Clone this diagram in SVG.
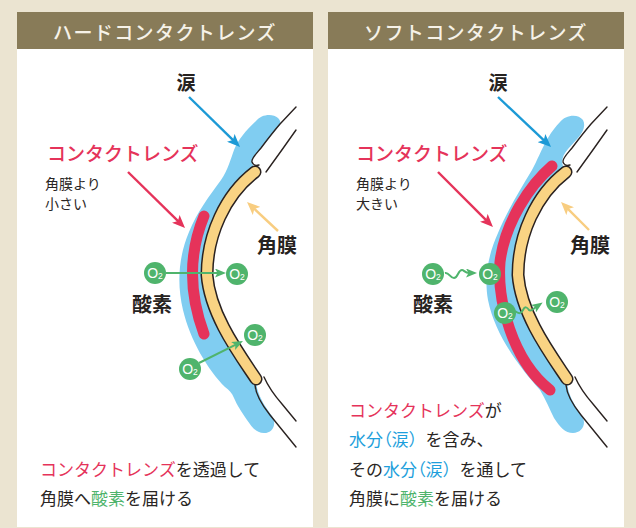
<svg xmlns="http://www.w3.org/2000/svg" width="636" height="528" viewBox="0 0 636 528">
  <defs>
    <style>
      .hdr{font-family:"Noto Sans CJK JP","Noto Sans",sans-serif;font-size:19px;font-weight:500;fill:#F6F2E8;letter-spacing:1.4px;text-anchor:middle}
      .lbl{font-family:"Noto Sans CJK JP",sans-serif;font-weight:700;fill:#262220}
      .txt{font-family:"Noto Sans CJK JP",sans-serif;fill:#2A2624}
      .red{fill:#E5335A}
      .blu{fill:#1E9FDC}
      .palt{font-feature-settings:"palt"}
      .grn{fill:#4FB46C}
      .tear{fill:#80CDF1}
      .lens{fill:none;stroke:#E5335A;stroke-width:11;stroke-linecap:round}
      .co{fill:none;stroke:#2A2220;stroke-width:13;stroke-linecap:round}
      .ci{fill:none;stroke:#F9D383;stroke-width:10;stroke-linecap:round}
      .lid{fill:none;stroke:#2A2220;stroke-width:1.4;stroke-linecap:round;stroke-linejoin:round}
      .o2c{fill:#4FB46C}
      .o2t{font-family:"Liberation Sans",Arial,sans-serif;fill:#fff;text-anchor:middle}
      .o{font-size:14px}
      .s{font-size:8.5px}
      .arr{fill:none;stroke-width:2.4}
      .garr{fill:none;stroke:#4FB46C;stroke-width:2}
    </style>
    <marker id="hBlue" markerUnits="userSpaceOnUse" viewBox="0 0 13 11" markerWidth="13" markerHeight="11" refX="4" refY="5.5" orient="auto">
      <path d="M0,0 L13,5.5 L0,11 L3,5.5 z" fill="#1C9AD6"/>
    </marker>
    <marker id="hRed" markerUnits="userSpaceOnUse" viewBox="0 0 13 11" markerWidth="13" markerHeight="11" refX="4" refY="5.5" orient="auto">
      <path d="M0,0 L13,5.5 L0,11 L3,5.5 z" fill="#E5335A"/>
    </marker>
    <marker id="hOrange" markerUnits="userSpaceOnUse" viewBox="0 0 13 11" markerWidth="13" markerHeight="11" refX="4" refY="5.5" orient="auto">
      <path d="M0,0 L13,5.5 L0,11 L3,5.5 z" fill="#F8CD80"/>
    </marker>
    <marker id="hGreen" markerUnits="userSpaceOnUse" viewBox="0 0 11 9" markerWidth="11" markerHeight="9" refX="3" refY="4.5" orient="auto">
      <path d="M0,0 L11,4.5 L0,9 L2.5,4.5 z" fill="#4FB46C"/>
    </marker>
    <!-- cornea centre line and eyelid edges, shared by both panels -->
    <path id="cornea" d="M255,172 C225,195 207,235 207,275 C210,315 240,355 256,379"/>
    <g id="lids">
      <path d="M296,107 L280,124 C274,131 267,140 261,148 C256,154 251,159 252,162 C253,165 256,166 259,165"/>
      <path d="M296,130 Q282,150 266,172"/>
      <path d="M255,385 C256,396 262,405 270,415 L296,447"/>
      <path d="M264,377 C268,386 275,396 282,404 L296,421"/>
    </g>
  </defs>

  <!-- background -->
  <rect width="636" height="528" fill="#EBE4D1"/>

  <!-- left panel: hard lens -->
  <g id="panel-hard">
    <rect x="17" y="12" width="296" height="515" fill="#FFFFFF"/>
    <rect x="17" y="12" width="296" height="37" fill="#887B58"/>
    <text class="hdr" x="165" y="39.5">ハードコンタクトレンズ</text>

    <g id="hard-eye">
      <path class="tear" d="M256,121 C261,114 273,113 278,118 C281,121 281,124 279,126 L270,137 L262,147 C257,153 252,158 252,162 L255,172 C225,195 207,235 207,275 C210,315 240,355 256,379 L257,388 C260,399 266,408 272,416 C277,424 273,433 264,433 C256,433 252,427 247,420 C241,411 237,405 234,398 C232,393 229,390 225,387 C208,370 190,340 183,310 C177,285 178,258 189,232 C197,212 210,195 221,180 C228,170 231,158 234,150 C238,140 246,130 256,121 Z"/>
      <path class="lens" d="M204,216 Q181,272 204,334"/>
      <use href="#cornea" class="co"/>
      <use href="#cornea" class="ci"/>
      <use href="#lids" class="lid"/>
    </g>

    <g id="hard-labels">
      <text class="lbl" x="186" y="90" font-size="19" text-anchor="middle">涙</text>
      <text class="txt red" x="47" y="161" font-size="19" font-weight="500">コンタクトレンズ</text>
      <text class="txt" x="45" y="189" font-size="14">角膜より</text>
      <text class="txt" x="45" y="209" font-size="14">小さい</text>
      <text class="lbl" x="257" y="253" font-size="20">角膜</text>
      <text class="lbl" x="132" y="312" font-size="20">酸素</text>
    </g>

    <g id="hard-caption" class="txt" font-size="17">
      <text x="40" y="476"><tspan class="red">コンタクトレンズ</tspan>を透過して</text>
      <text x="40" y="505">角膜へ<tspan class="grn">酸素</tspan>を届ける</text>
    </g>
  </g>

  <!-- right panel: soft lens -->
  <g id="panel-soft">
    <rect x="328" y="12" width="296" height="515" fill="#FFFFFF"/>
    <rect x="328" y="12" width="296" height="37" fill="#887B58"/>
    <text class="hdr" x="476" y="39.5">ソフトコンタクトレンズ</text>

    <g id="soft-eye">
      <path class="tear" d="M560,122 C565,115 578,113 583,120 C586,126 583,132 578,138 L568,149 C563,155 561,160 563,166 L566,172 C536,195 518,235 518,275 C521,315 551,355 567,379 L568,389 C571,400 577,409 582,416 C587,424 582,433 573,433 C565,433 560,427 554,418 C550,410 546,400 540,390 C520,368 495,335 488,300 C484,278 488,255 498,233 C506,213 520,190 532,170 C537,161 541,150 548,138 C552,131 556,126 560,122 Z"/>
      <path class="lens" d="M552,166 C530,185 505,222 500,262 C497,300 512,360 550,390"/>
      <g transform="translate(311,0)">
        <use href="#cornea" class="co"/>
        <use href="#cornea" class="ci"/>
        <use href="#lids" class="lid"/>
      </g>
    </g>

    <g id="soft-labels">
      <text class="lbl" x="498" y="90" font-size="19" text-anchor="middle">涙</text>
      <text class="txt red" x="356" y="161" font-size="19" font-weight="500">コンタクトレンズ</text>
      <text class="txt" x="356" y="189" font-size="14">角膜より</text>
      <text class="txt" x="356" y="209" font-size="14">大きい</text>
      <text class="lbl" x="570" y="253" font-size="20">角膜</text>
      <text class="lbl" x="413" y="312" font-size="20">酸素</text>
    </g>

    <g id="soft-caption" class="txt" font-size="17">
      <text x="349" y="417"><tspan class="red">コンタクトレンズ</tspan>が</text>
      <text x="349" y="446"><tspan class="blu palt">水分（涙</tspan><tspan class="blu">）</tspan>を含み、</text>
      <text x="349" y="476">その<tspan class="blu palt">水分（涙</tspan><tspan class="blu">）</tspan>を通して</text>
      <text x="349" y="505">角膜に<tspan class="grn">酸素</tspan>を届ける</text>
    </g>
  </g>

  <!-- connectors -->
  <g id="connectors">
    <path class="arr" stroke="#1C9AD6" marker-end="url(#hBlue)" d="M189,97 L233.6,140.7"/>
    <path class="arr" stroke="#E5335A" marker-end="url(#hRed)" d="M128,172 L178.6,221.7"/>
    <path class="arr" stroke="#F8CD80" marker-end="url(#hOrange)" d="M278,231 L253.6,208.2"/>
    <path class="garr" marker-end="url(#hGreen)" d="M166,273 L218,273"/>
    <path class="garr" marker-end="url(#hGreen)" d="M199,363 L235.8,344.6"/>

    <path class="arr" stroke="#1C9AD6" marker-end="url(#hBlue)" d="M498,97 L544.5,140.8"/>
    <path class="arr" stroke="#E5335A" marker-end="url(#hRed)" d="M438,172 L486.6,220.6"/>
    <path class="arr" stroke="#F8CD80" marker-end="url(#hOrange)" d="M589,230 L567.4,208.4"/>
    <path class="garr" marker-end="url(#hGreen)" d="M445,273 C449,272 450,278 454,278 C458,278 458,270 462,270 C464,270 465,273 469,273"/>
    <path class="garr" marker-end="url(#hGreen)" d="M515,311 C519,314 521,314 523,310 C525,306 527,307 529,310 C531,312 533,309 536,307"/>
  </g>

  <!-- oxygen molecules -->
  <g id="o2-hard-1"><circle class="o2c" cx="155" cy="273" r="11"/><text class="o2t" x="155" y="278"><tspan class="o">O</tspan><tspan class="s" dy="1">2</tspan></text></g>
  <g id="o2-hard-2"><circle class="o2c" cx="237" cy="274" r="11"/><text class="o2t" x="237" y="279"><tspan class="o">O</tspan><tspan class="s" dy="1">2</tspan></text></g>
  <g id="o2-hard-3"><circle class="o2c" cx="255" cy="335" r="11"/><text class="o2t" x="255" y="340"><tspan class="o">O</tspan><tspan class="s" dy="1">2</tspan></text></g>
  <g id="o2-hard-4"><circle class="o2c" cx="190" cy="369" r="11"/><text class="o2t" x="190" y="374"><tspan class="o">O</tspan><tspan class="s" dy="1">2</tspan></text></g>
  <g id="o2-soft-1"><circle class="o2c" cx="433" cy="274" r="11"/><text class="o2t" x="433" y="279"><tspan class="o">O</tspan><tspan class="s" dy="1">2</tspan></text></g>
  <g id="o2-soft-2"><circle class="o2c" cx="490" cy="274" r="11"/><text class="o2t" x="490" y="279"><tspan class="o">O</tspan><tspan class="s" dy="1">2</tspan></text></g>
  <g id="o2-soft-3"><circle class="o2c" cx="505" cy="313" r="11"/><text class="o2t" x="505" y="318"><tspan class="o">O</tspan><tspan class="s" dy="1">2</tspan></text></g>
  <g id="o2-soft-4"><circle class="o2c" cx="557" cy="302" r="11"/><text class="o2t" x="557" y="307"><tspan class="o">O</tspan><tspan class="s" dy="1">2</tspan></text></g>
</svg>
